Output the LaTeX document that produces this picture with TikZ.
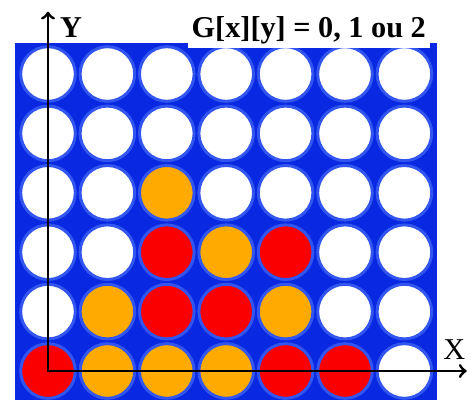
\documentclass[tikz,border=0pt]{standalone}
\usepackage{fontspec}
\setmainfont{Liberation Serif}
\definecolor{board}{RGB}{8,40,225}
\definecolor{rim}{RGB}{50,85,240}
\definecolor{jaune}{RGB}{255,170,0}
\definecolor{rouge}{RGB}{250,0,0}
\begin{document}
\begin{tikzpicture}[
  p0/.style={circle, fill=white, draw=rim, line width=0.05cm, minimum size=0.92cm, inner sep=0pt},
  p1/.style={p0, fill=rouge},
  p2/.style={p0, fill=jaune},
  lbl/.style={font=\bfseries\fontsize{14.5}{16}\selectfont, anchor=base, inner sep=2pt}]
\useasboundingbox (-0.808,-0.539) rectangle (7.172,6.246);
\fill[board] (-0.556,-0.49) rectangle (6.55,5.52);
% grille G[x][y], ligne du bas d'abord
\foreach \row [count=\y from 0] in {{1,2,2,2,1,1,0},{0,2,1,1,2,0,0},{0,0,1,2,1,0,0},
    {0,0,2,0,0,0,0},{0,0,0,0,0,0,0},{0,0,0,0,0,0,0}}
  \foreach \v [count=\x from 0] in \row
    \node[p\v] (c\x\y) at (\x,\y) {};
\node[lbl, fill=white] (titre) at (4.39,5.62) {G[x][y] = 0, 1 ou 2};
\node[lbl] (ylbl) at (0.39,5.62) {Y};
\node[lbl, font=\fontsize{14.5}{16}\selectfont] (xlbl) at (6.84,0.2) {X};
\coordinate (O) at (0,0);
\coordinate (ytop) at (0,6.05);
\coordinate (xend) at (7.05,0);
\draw[line width=1.4pt, <->] (ytop) -- (O) -- (xend);
\end{tikzpicture}
\end{document}
